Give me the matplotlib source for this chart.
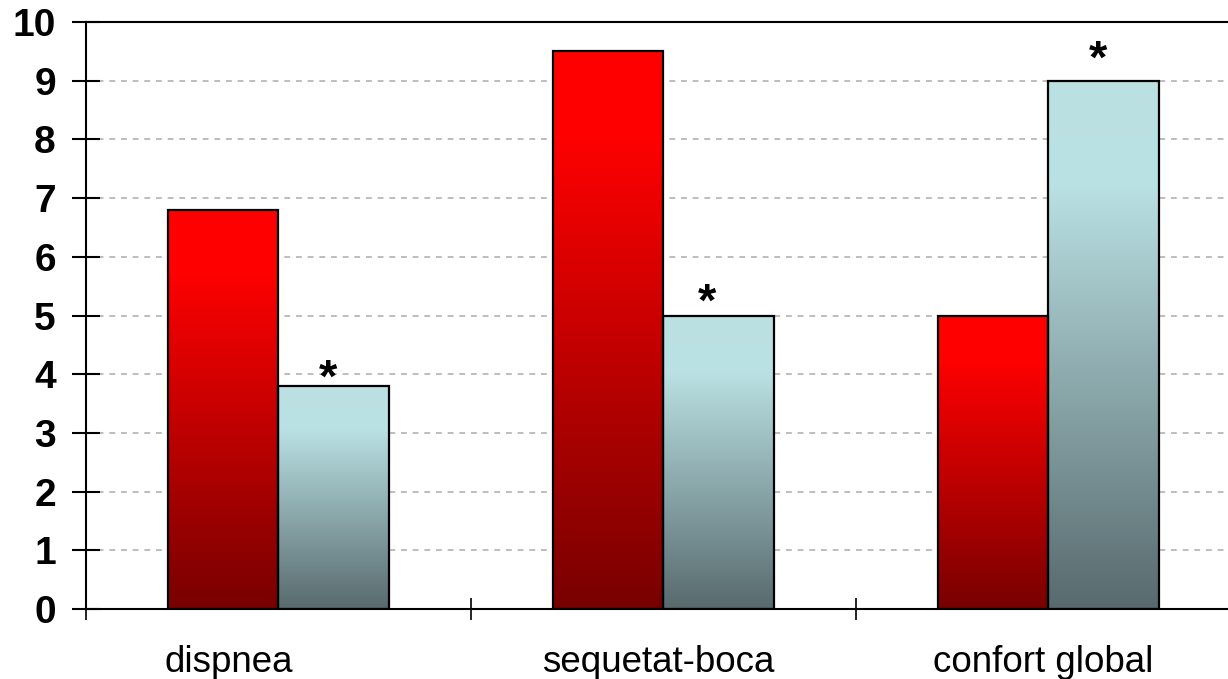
import numpy as np
import matplotlib
matplotlib.use('Agg')
import matplotlib.pyplot as plt
from matplotlib.colors import LinearSegmentedColormap
from matplotlib.transforms import ScaledTranslation

categories = ['dispnea', 'sequetat-boca', 'confort global']
red_values = [6.8, 9.5, 5.0]
blue_values = [3.8, 5.0, 9.0]
star_marks = ['*', '*', '*']
y_ticks = [0, 1, 2, 3, 4, 5, 6, 7, 8, 9, 10]

# layout tweaks (pixels) for the hand-placed asterisks and first label
star_gap_px = [17, 23, 31]
star_dx_px = [-6, -12, -6]
label_dx_px = [-50, -5, -5]

plt.rcParams['font.family'] = ['Liberation Sans', 'DejaVu Sans']

# vertical gradients, 0 = bottom of bar, 1 = top
red_cmap = LinearSegmentedColormap.from_list(
    'red_grad', [(0.0, (120/255, 0, 0)), (0.85, (1, 0, 0)), (1.0, (1, 0, 0))])
blue_cmap = LinearSegmentedColormap.from_list(
    'blue_grad', [(0.0, (88/255, 106/255, 110/255)),
                  (0.8, (185/255, 224/255, 226/255)),
                  (1.0, (187/255, 225/255, 227/255))])

fig = plt.figure(figsize=(12.28, 6.79), dpi=100)
ax = fig.add_axes([86/1228, 70/679, 1155/1228, 587/679])

x = np.arange(len(categories)) + 0.5
width = 0.287
grad = np.linspace(1, 0, 256).reshape(-1, 1)

red_bars = ax.bar(x - width/2, red_values, width, facecolor='none',
                  edgecolor='black', linewidth=1.6, zorder=3)
blue_bars = ax.bar(x + width/2, blue_values, width, facecolor='none',
                   edgecolor='black', linewidth=1.6, zorder=3)

for bars, cmap in [(red_bars, red_cmap), (blue_bars, blue_cmap)]:
    for b in bars:
        x0, h, w = b.get_x(), b.get_height(), b.get_width()
        ax.imshow(grad, cmap=cmap, vmin=0, vmax=1, aspect='auto',
                  extent=[x0, x0 + w, 0, h], zorder=2, interpolation='bilinear')

# asterisk glyph centre sits ~23 px above its baseline at this size
px = 72 / fig.dpi
for xi, v, s, gap, dx in zip(x + width/2, blue_values, star_marks, star_gap_px, star_dx_px):
    ax.annotate(s, (xi, v), xytext=(dx * px, (gap - 23) * px), textcoords='offset points',
                ha='center', va='baseline', fontsize=34, fontweight='bold', zorder=4)

ax.set_xlim(0, 3)
ax.set_ylim(0, 10)

ax.set_yticks(y_ticks)
ax.set_yticklabels([str(t) for t in y_ticks], fontsize=28, fontweight='bold')
ax.tick_params(axis='y', direction='inout', length=19.5, width=1.5, pad=12)
ax.yaxis.grid(True, color='#bdbdbd', linestyle=(0, (3, 3)), linewidth=1.4, zorder=1)
ax.set_axisbelow(True)

ax.set_xticks([0, 1, 2, 3])
ax.set_xticklabels([])
ax.tick_params(axis='x', which='major', direction='inout', length=16.5, width=1.2)
ax.set_xticks(x, minor=True)
ax.set_xticklabels(categories, minor=True, fontsize=26.5)
ax.tick_params(axis='x', which='minor', length=0, pad=26)
for lab, dx in zip(ax.get_xticklabels(minor=True), label_dx_px):
    lab.set_transform(lab.get_transform() + ScaledTranslation(dx / fig.dpi, 0, fig.dpi_scale_trans))

for side in ['left', 'bottom', 'top']:
    ax.spines[side].set_linewidth(1.5)
ax.spines['right'].set_visible(False)

fig.savefig('out.png', dpi=100)
